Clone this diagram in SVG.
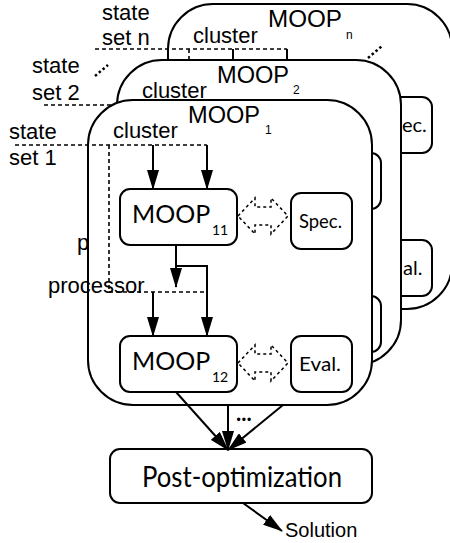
<svg xmlns="http://www.w3.org/2000/svg" width="450" height="543" viewBox="0 0 450 543">
<defs>
<style>
.frame{fill:#fff;stroke:#000;stroke-width:2}
.box{fill:#fff;stroke:#000;stroke-width:2}
.ln{fill:none;stroke:#000;stroke-width:2}
.dash{fill:none;stroke:#000;stroke-width:1.6;stroke-dasharray:4 3}
.dot{fill:none;stroke:#000;stroke-width:2.5;stroke-dasharray:2.5 2.5}
.dbl{fill:#fff;stroke:#000;stroke-width:1.5;stroke-dasharray:3 3}
.ar{font-family:"Liberation Sans",Arial,sans-serif;font-size:22px;fill:#000}
.tt{font-family:"Liberation Sans",Arial,sans-serif;font-size:23.5px;fill:#000}
.sb{font-family:"Liberation Sans",Arial,sans-serif;font-size:12px;fill:#000}
.cb{font-family:Lato,"Open Sans",sans-serif;fill:#000}
</style>
<marker id="ah" viewBox="0 0 20 12" refX="19" refY="6" markerWidth="20" markerHeight="12" markerUnits="userSpaceOnUse" orient="auto">
<path d="M0,0 L20,6 L0,12 Z" fill="#000"/>
</marker>
</defs>

<!-- MOOP n (back) -->
<g id="moop-n">
<rect class="frame" x="168" y="4" width="284" height="305" rx="45" ry="45"/>
<text class="tt" x="268" y="27" textLength="74" lengthAdjust="spacingAndGlyphs">MOOP</text>
<text class="sb" x="346" y="39">n</text>
<text class="ar" x="193" y="43">cluster</text>
<text class="ar" x="102" y="20">state</text>
<text class="ar" x="102" y="45">set n</text>
</g>
<g id="connectors-n">
<line class="dash" x1="95" y1="49" x2="287" y2="49"/>
<line class="dash" x1="189" y1="49" x2="189" y2="70"/>
<line class="ln" x1="233" y1="49" x2="233" y2="70"/>
<line class="ln" x1="287" y1="49" x2="287" y2="70"/>
<line class="dot" x1="368" y1="58" x2="382" y2="46"/>
</g>
<g id="spec-n"><rect class="box" x="371" y="97" width="61" height="56" rx="10"/><text class="cb" x="402" y="132" font-size="20">ec.</text></g>
<g id="eval-n"><rect class="box" x="371" y="240" width="61" height="56" rx="10"/><text class="cb" x="403" y="275" font-size="20">al.</text></g>

<!-- MOOP 2 -->
<g id="moop-2">
<rect class="frame" x="117" y="60" width="284" height="305" rx="45" ry="45"/>
<text class="tt" x="217" y="83" textLength="72" lengthAdjust="spacingAndGlyphs">MOOP</text>
<text class="sb" x="293" y="94">2</text>
<text class="ar" x="142" y="98">cluster</text>
<text class="ar" x="32" y="73">state</text>
<text class="ar" x="32" y="100">set 2</text>
<text class="ar" x="77" y="250">p</text>
</g>
<g id="connectors-2">
<line class="dash" x1="44" y1="105" x2="120" y2="105"/>
<line class="dot" x1="95" y1="76" x2="108" y2="65"/>
</g>
<g id="spec-2"><rect class="box" x="320" y="153" width="61" height="56" rx="10"/></g>
<g id="eval-2"><rect class="box" x="320" y="296" width="61" height="56" rx="10"/></g>

<!-- MOOP 1 (front) -->
<g id="moop-1">
<rect class="frame" x="88" y="100" width="284" height="305" rx="45" ry="45"/>
<text class="tt" x="188" y="123" textLength="72" lengthAdjust="spacingAndGlyphs">MOOP</text>
<text class="sb" x="265" y="134">1</text>
<text class="ar" x="113" y="138">cluster</text>
<text class="ar" x="9" y="139">state</text>
<text class="ar" x="9" y="165">set 1</text>
<text class="ar" x="48" y="293">processor</text>
</g>

<g id="moop11">
<rect class="box" x="120" y="189" width="117" height="56" rx="10"/>
<text class="cb" x="132" y="223" font-size="25">MOOP</text>
<text class="cb" x="212" y="235" font-size="14">11</text>
</g>
<g id="spec">
<rect class="box" x="291" y="193" width="61" height="56" rx="10"/>
<text class="cb" x="299" y="228" font-size="20" textLength="43" lengthAdjust="spacingAndGlyphs">Spec.</text>
</g>
<g id="moop12">
<rect class="box" x="120" y="336" width="117" height="56" rx="10"/>
<text class="cb" x="132" y="370" font-size="25">MOOP</text>
<text class="cb" x="212" y="382" font-size="14">12</text>
</g>
<g id="eval">
<rect class="box" x="291" y="336" width="61" height="56" rx="10"/>
<text class="cb" x="299" y="371" font-size="20" textLength="42" lengthAdjust="spacingAndGlyphs">Eval.</text>
</g>
<g id="post-opt">
<rect class="box" x="110" y="449" width="262" height="54" rx="10"/>
<text class="cb" x="142" y="487" font-size="28" textLength="200" lengthAdjust="spacingAndGlyphs">Post-optimization</text>
</g>
<g id="solution">
<text class="ar" x="285" y="537" style="font-size:20px">Solution</text>
</g>

<g id="connectors">
<line class="dash" x1="15" y1="145" x2="207" y2="145"/>
<line class="dash" x1="109" y1="145" x2="109" y2="292"/>
<line class="dash" x1="109" y1="292" x2="207" y2="292"/>
<line class="ln" x1="153" y1="145" x2="153" y2="189" marker-end="url(#ah)"/>
<line class="ln" x1="207" y1="145" x2="207" y2="189" marker-end="url(#ah)"/>
<line class="ln" x1="176" y1="245" x2="176" y2="287" marker-end="url(#ah)"/>
<polyline class="ln" points="176,266 207,266 207,336" marker-end="url(#ah)"/>
<line class="ln" x1="153" y1="292" x2="153" y2="336" marker-end="url(#ah)"/>
<path class="dbl" d="M238,216 L255,198 L255,207 L271,207 L271,198 L288,216 L271,234 L271,225 L255,225 L255,234 Z"/>
<path class="dbl" d="M238,363 L255,345 L255,354 L271,354 L271,345 L288,363 L271,381 L271,372 L255,372 L255,381 Z"/>
<line class="ln" x1="176" y1="392" x2="228" y2="450" marker-end="url(#ah)"/>
<line class="ln" x1="228" y1="405" x2="228" y2="450" marker-end="url(#ah)"/>
<line class="ln" x1="283" y1="405" x2="228" y2="450" marker-end="url(#ah)"/>
<text class="cb" x="236" y="421" font-size="22" font-weight="bold">...</text>
<line class="ln" x1="243" y1="503" x2="282" y2="531" marker-end="url(#ah)"/>
</g>
</svg>
